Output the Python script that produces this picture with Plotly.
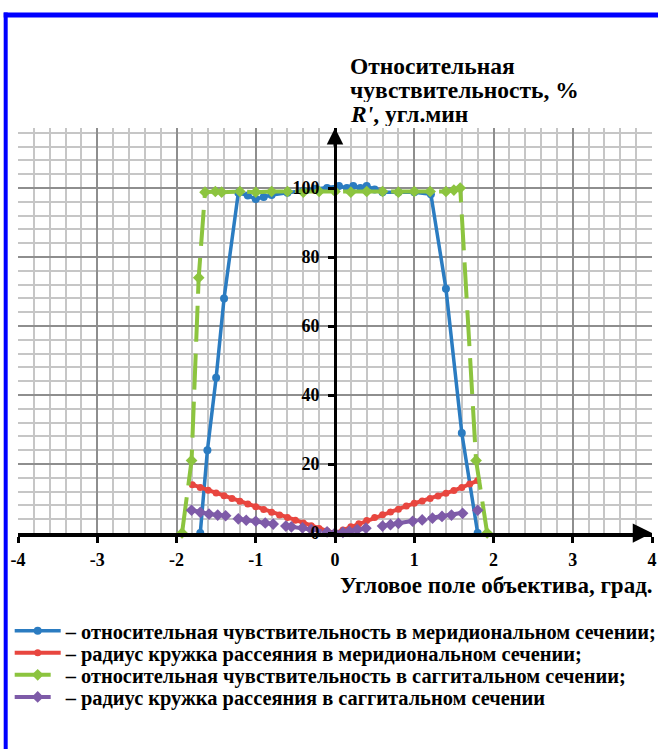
import plotly.graph_objects as go

# ---------------- data ----------------
blue_x = [-1.70, -1.61, -1.50, -1.40, -1.22, -1.10, -1.00, -0.90, -0.80, -0.60, -0.40, -0.25, -0.10,
          0.05, 0.15, 0.23, 0.32, 0.40, 0.50, 0.60, 0.80, 1.00, 1.21, 1.40, 1.60, 1.80]
blue_y = [0, 24, 45, 68, 98.6, 97.8, 96.8, 97.4, 98.0, 98.6, 99.2, 99.8, 100.0,
          100.6, 100.0, 100.6, 100.0, 100.6, 99.6, 98.8, 98.8, 98.8, 98.2, 70.8, 29, 0]

red_x = [-1.80, -1.70, -1.60, -1.50, -1.40, -1.30, -1.20, -1.10, -1.00, -0.90, -0.80, -0.70, -0.60,
         -0.50, -0.40, -0.30, -0.20, -0.10, 0.00, 0.10, 0.20, 0.30, 0.40, 0.50, 0.60, 0.70, 0.80,
         0.90, 1.00, 1.10, 1.20, 1.30, 1.40, 1.50, 1.60, 1.70, 1.80]
red_y = [14.0, 13.2, 12.4, 11.6, 10.8, 10.0, 9.2, 8.4, 7.6, 6.8, 6.0, 5.2, 4.5,
         3.7, 2.9, 2.1, 1.3, 0.6, 0.0, 0.9, 1.8, 2.7, 3.6, 4.5, 5.3, 6.1, 6.9,
         7.8, 8.6, 9.3, 10.0, 10.7, 11.5, 12.3, 13.2, 14.2, 15.2]

green_x = [-1.93, -1.81, -1.72, -1.64, -1.51, -1.43, -1.20, -1.00, -0.80, -0.60, -0.40, -0.20,
           0.00, 0.20, 0.40, 0.60, 0.80, 1.00, 1.20, 1.40, 1.50, 1.58, 1.78, 1.92]
green_y = [0, 21, 74, 98.8, 99.0, 98.8, 99.0, 98.8, 99.0, 99.0, 98.8, 99.0,
           99.0, 98.8, 99.0, 99.0, 98.8, 99.0, 99.0, 99.0, 99.4, 100.0, 21, 0]

purple_x = [-1.81, -1.70, -1.59, -1.48, -1.38, -1.22, -1.12, -1.00, -0.88, -0.78, -0.62, -0.55,
            -0.41, -0.30, -0.10, 0.00, 0.10, 0.18, 0.28, 0.39, 0.60, 0.70, 0.80, 0.98, 1.10,
            1.23, 1.35, 1.47, 1.61, 1.80]
purple_y = [6.6, 6.0, 5.5, 5.2, 5.0, 4.1, 3.7, 3.4, 2.9, 2.6, 2.0, 1.8,
            1.5, 1.0, 0.3, 0.0, 0.2, 0.5, 1.0, 1.4, 2.0, 2.4, 2.8, 3.4, 3.8,
            4.3, 4.8, 5.2, 5.7, 6.6]

series_names = [
    "– относительная чувствительность в меридиональном сечении;",
    "– радиус кружка рассеяния в меридиональном сечении;",
    "– относительная чувствительность в саггитальном сечении;",
    "– радиус кружка рассеяния в саггитальном сечении",
]
x_ticks = [-4, -3, -2, -1, 0, 1, 2, 3, 4]
y_ticks = [0, 20, 40, 60, 80, 100]
y_title_lines = ["Относительная", "чувствительность, %", "<i>R'</i>, угл.мин"]
x_title = "Угловое поле объектива, град."

# ---------------- layout geometry (page pixels) ----------------
W, H = 658, 749
PLOT_L, PLOT_R, PLOT_T, PLOT_B = 18.3, 651.7, 128.3, 533.0
ML, MR, MT, MB = PLOT_L, W - PLOT_R, PLOT_T, H - PLOT_B
PW, PH = W - ML - MR, H - MT - MB
Y_MAX = 117.4


def fx(px):
    return (px - PLOT_L) / PW


def fy(py):
    return (PLOT_B - py) / PH


# Times-like serif (falls back to the browser's default serif face)
FONT = "Tinos, 'Times New Roman'"
BLUE, RED, GREEN, PURPLE = "#2b7cc1", "#e8463f", "#8cc43f", "#7e5ba8"

fig = go.Figure()
fig.add_trace(go.Scatter(x=blue_x, y=blue_y, name=series_names[0], mode="lines+markers",
                         line=dict(color=BLUE, width=3.5), marker=dict(symbol="circle", size=8, color=BLUE),
                         cliponaxis=False, legend="legend"))
fig.add_trace(go.Scatter(x=red_x, y=red_y, name=series_names[1], mode="lines+markers",
                         line=dict(color=RED, width=4), marker=dict(symbol="circle", size=7, color=RED),
                         cliponaxis=False, legend="legend2"))
fig.add_trace(go.Scatter(x=green_x, y=green_y, name=series_names[2], mode="lines+markers",
                         line=dict(color=GREEN, width=4, dash="36px,12px"),
                         marker=dict(symbol="diamond", size=9, color=GREEN),
                         cliponaxis=False, legend="legend3"))
fig.add_trace(go.Scatter(x=purple_x, y=purple_y, name=series_names[3], mode="lines+markers",
                         line=dict(color=PURPLE, width=4, dash="36px,12px"),
                         marker=dict(symbol="diamond", size=9, color=PURPLE),
                         cliponaxis=False, legend="legend4"))

tickfont = dict(family=FONT, size=18, color="black", weight="bold")

fig.update_layout(
    width=W, height=H,
    margin=dict(l=ML, r=MR, t=MT, b=MB, autoexpand=False),
    paper_bgcolor="white", plot_bgcolor="white",
    xaxis=dict(range=[-4, 4], tickvals=x_ticks, ticktext=[str(v) for v in x_ticks],
               showgrid=True, gridcolor="#8e8e8e", gridwidth=1.8,
               minor=dict(dtick=0.2, tick0=-4, showgrid=True, gridcolor="#c6c6c6", gridwidth=1.6),
               zeroline=False, showline=True, linecolor="black", linewidth=3.5,
               ticks="outside", ticklen=6, tickwidth=2.5, tickcolor="black",
               ticklabelstandoff=2,
               tickfont=tickfont, fixedrange=True, automargin=False),
    yaxis=dict(range=[0, Y_MAX], tickvals=y_ticks, ticktext=[str(v) for v in y_ticks],
               anchor="free", position=0.5,
               showgrid=True, gridcolor="#8e8e8e", gridwidth=1.8,
               minor=dict(dtick=4, tick0=0, showgrid=True, gridcolor="#c6c6c6", gridwidth=1.6),
               zeroline=False, showline=True, linecolor="black", linewidth=3,
               ticks="outside", ticklen=6, tickwidth=2.5, tickcolor="black",
               ticklabelstandoff=5,
               tickfont=tickfont, fixedrange=True, automargin=False),
    showlegend=True,
)

legend_centers = [631, 653, 675, 697]
legend_keys = ["legend", "legend2", "legend3", "legend4"]
for key, cy in zip(legend_keys, legend_centers):
    fig.update_layout({key: dict(x=fx(10), y=fy(cy), xanchor="left", yanchor="middle",
                                 bgcolor="rgba(0,0,0,0)", borderwidth=0, itemwidth=46,
                                 font=dict(family=FONT, size=20.4, color="black", weight="bold"),
                                 itemclick=False, itemdoubleclick=False)})

# axis arrows
fig.add_annotation(x=4, y=0, xref="x", yref="y", ax=-20, ay=0, text="", showarrow=True,
                   arrowhead=2, arrowsize=1.1, arrowwidth=3.5, arrowcolor="black")
fig.add_annotation(x=0, y=Y_MAX, xref="x", yref="y", ax=0, ay=20, text="", showarrow=True,
                   arrowhead=2, arrowsize=1.1, arrowwidth=3, arrowcolor="black")

# axis titles
for line, cy in zip(y_title_lines, [66, 90, 114]):
    fig.add_annotation(x=fx(348), y=fy(cy), xref="paper", yref="paper", xanchor="left", yanchor="middle",
                       text="<b>" + line + "</b>", showarrow=False, height=24, valign="middle",
                       font=dict(family=FONT, size=23.5, color="black"))
fig.add_annotation(x=fx(655), y=fy(585), xref="paper", yref="paper", xanchor="right", yanchor="middle",
                   text="<b>" + x_title + "</b>", showarrow=False,
                   font=dict(family=FONT, size=23, color="black"))

# blue frame
fig.add_shape(type="line", xref="paper", yref="paper", x0=fx(6), x1=fx(6), y0=fy(13), y1=fy(760),
              line=dict(color="#0000ff", width=4))
fig.add_shape(type="line", xref="paper", yref="paper", x0=fx(4), x1=fx(670), y0=fy(15.5), y1=fy(15.5),
              line=dict(color="#0000ff", width=5))

fig.write_html("out.html", config={"displayModeBar": False},
               post_script="document.body.style.margin='0px';document.body.style.overflow='hidden';")
